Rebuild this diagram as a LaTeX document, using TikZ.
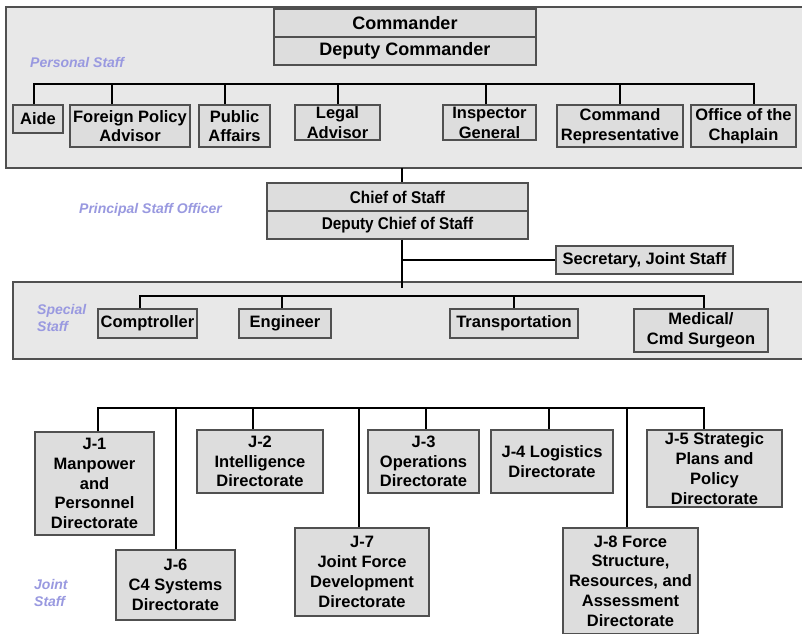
\documentclass[tikz,border=0pt]{standalone}
\usepackage{fontspec}
\setmainfont{Liberation Sans}
\newfontfamily\condfont{Liberation Sans}[FakeStretch=0.9]
\definecolor{panelfill}{RGB}{232,232,232}
\definecolor{boxfill}{RGB}{221,221,221}
\definecolor{edge}{RGB}{80,80,80}
\definecolor{lav}{RGB}{153,153,224}
\begin{document}
\begin{tikzpicture}[x=1pt,y=-1pt,
  panel/.style={draw=edge,fill=panelfill,line width=1.2pt},
  box/.style={draw=edge,fill=boxfill,line width=1.1pt,inner sep=0pt,align=center,
    font=\bfseries\fontsize{16.5}{19.8}\selectfont},
  bigbox/.style={box,font=\bfseries\fontsize{18}{21}\selectfont},
  condbox/.style={box,font=\condfont\bfseries\fontsize{17}{20}\selectfont},
  conn/.style={line width=2.4pt,line join=miter,line cap=butt},
  lbl/.style={text=lav,font=\bfseries\itshape\fontsize{14}{17}\selectfont,
    inner sep=0pt,align=left,anchor=west}]
\useasboundingbox (0,0) rectangle (802,633);
\fill[white] (0,0) rectangle (802,633);

% panels
\draw[panel] (6,7) rectangle (806,168);
\draw[panel] (13,282) rectangle (806,359);

% labels
\node[lbl] (lps) at (30,62) {Personal Staff};
\node[lbl] (lpo) at (79,210) {Principal Staff Officer};
\node[lbl] (lss) at (37,317.5) {Special\\Staff};
\node[lbl] (ljs) at (34,592.5) {Joint\\Staff};

% commander
\node[bigbox,minimum width=262,minimum height=28] (cmd) at (405,23) {Commander};
\node[bigbox,minimum width=262,minimum height=28] (dcmd) at (405,51) {Deputy Commander};

% personal staff
\node[box,minimum width=50,minimum height=28] (aide) at (38,119) {Aide};
\node[box,minimum width=120,minimum height=42] (fpa) at (130,126) {Foreign Policy\\Advisor};
\node[box,minimum width=71,minimum height=42] (pa) at (234.5,126) {Public\\Affairs};
\node[box,minimum width=85,minimum height=35] (la) at (337.5,122.5) {Legal\\Advisor};
\node[box,minimum width=93,minimum height=35] (ig) at (489.5,122.5) {Inspector\\General};
\node[box,minimum width=126,minimum height=42] (cr) at (620,126) {Command\\Representative};
\node[box,minimum width=105,minimum height=42] (oc) at (743.5,126) {Office of the\\Chaplain};

\coordinate (pb1) at (34,84);
\coordinate (pb7) at (754,84);
\draw[conn] (pb1 |- aide.north) -- (pb1) -- (pb7) -- (pb7 |- oc.north);
\draw[conn] (112,84) -- (112,0 |- fpa.north);
\draw[conn] (225,84) -- (225,0 |- pa.north);
\draw[conn] (338,84) -- (338,0 |- la.north);
\draw[conn] (486,84) -- (486,0 |- ig.north);
\draw[conn] (620,84) -- (620,0 |- cr.north);

% chief of staff
\node[condbox,minimum width=261,minimum height=28] (cos) at (397.5,197) {Chief of Staff};
\node[condbox,minimum width=261,minimum height=28] (dcos) at (397.5,225) {Deputy Chief of Staff};
\coordinate (pbot) at (402,168);
\draw[conn] (pbot) -- (pbot |- cos.north);
\coordinate (cend) at (402,288);
\coordinate (sj) at (402,260);
\draw[conn] (cend |- dcos.south) -- (cend);
\node[box,minimum width=177,minimum height=28] (sec) at (644.5,260) {Secretary, Joint Staff};
\draw[conn] (sj) -- (sec.west);

% special staff
\node[box,minimum width=99,minimum height=29] (comp) at (147.5,323.5) {Comptroller};
\node[box,minimum width=92,minimum height=29] (eng) at (285,323.5) {Engineer};
\node[box,minimum width=128,minimum height=29] (trans) at (514,323.5) {Transportation};
\node[box,minimum width=134,minimum height=43] (med) at (701,330.5) {Medical/\\Cmd Surgeon};
\coordinate (sb1) at (140,296);
\coordinate (sb4) at (704,296);
\draw[conn] (sb1 |- comp.north) -- (sb1) -- (sb4) -- (sb4 |- med.north);
\draw[conn] (282,296) -- (282,0 |- eng.north);
\draw[conn] (514,296) -- (514,0 |- trans.north);

% joint staff
\node[box,minimum width=119,minimum height=103] (j1) at (94.5,483.5) {J-1\\Manpower\\and\\Personnel\\Directorate};
\node[box,minimum width=119,minimum height=70] (j6) at (175.5,585) {J-6\\C4 Systems\\Directorate};
\node[box,minimum width=126,minimum height=63] (j2) at (260,461.5) {J-2\\Intelligence\\Directorate};
\node[box,minimum width=134,minimum height=88] (j7) at (362,572) {J-7\\Joint Force\\Development\\Directorate};
\node[box,minimum width=111,minimum height=63] (j3) at (423.5,461.5) {J-3\\Operations\\Directorate};
\node[box,minimum width=122,minimum height=63] (j4) at (552,461.5) {J-4 Logistics\\Directorate};
\node[box,minimum width=135,minimum height=106] (j8) at (630.5,581) {J-8 Force\\Structure,\\Resources, and\\Assessment\\Directorate};
\node[box,minimum width=135,minimum height=77] (j5) at (714.5,468.5) {J-5 Strategic\\Plans and\\Policy\\Directorate};
\coordinate (jb1) at (98,408);
\coordinate (jb8) at (704,408);
\draw[conn] (jb1 |- j1.north) -- (jb1) -- (jb8) -- (jb8 |- j5.north);
\draw[conn] (176,408) -- (176,0 |- j6.north);
\draw[conn] (253,408) -- (253,0 |- j2.north);
\draw[conn] (359,408) -- (359,0 |- j7.north);
\draw[conn] (426,408) -- (426,0 |- j3.north);
\draw[conn] (549,408) -- (549,0 |- j4.north);
\draw[conn] (627,408) -- (627,0 |- j8.north);
\end{tikzpicture}
\end{document}
